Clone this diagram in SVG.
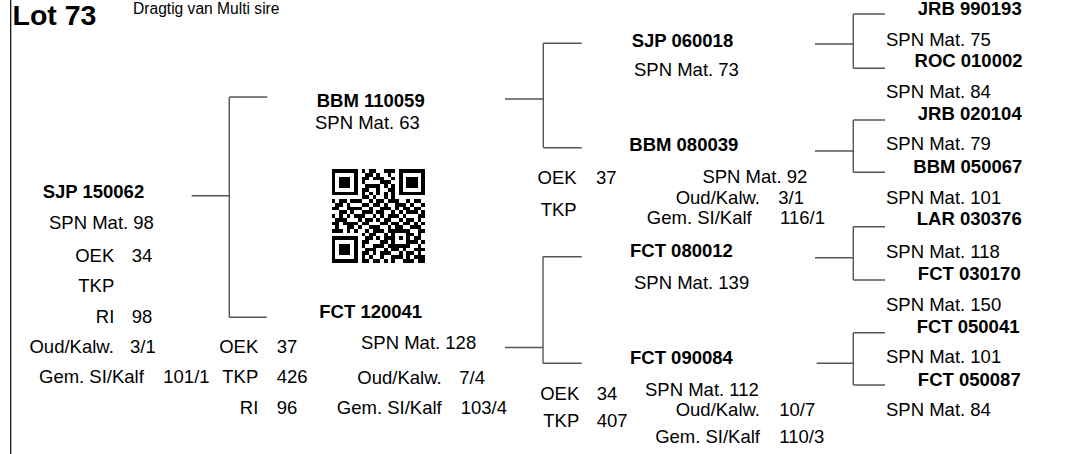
<svg xmlns="http://www.w3.org/2000/svg" width="1078" height="454" viewBox="0 0 1078 454">
<style>
text{font-family:"Liberation Sans",Arial,sans-serif;font-size:18.5px;fill:#000}
.b{font-weight:bold}
.e{text-anchor:end}
.c{fill:none;stroke:#555;stroke-width:1.4}
</style>
<rect width="1078" height="454" fill="#fff"/>
<g id="connectors">
<line x1="10.7" y1="0" x2="10.7" y2="454" stroke="#000" stroke-width="1.2"/>
<path class="c" d="M191.7,195.7H229.3M229.3,97V317.3M229.3,97H267.3M229.3,317.3H266.7"/>
<path class="c" d="M505,99H543.3M543.3,43.3V147.7M543.3,43.3H581.7M543.3,147.7H581.7"/>
<path class="c" d="M505,347.5H543M543,256.7V363.3M543,256.7H581.7M543,363.3H581.7"/>
<path class="c" d="M815,44H853.3M853.3,14V68.3M853.3,14H885M853.3,68.3H885"/>
<path class="c" d="M815,151H853.3M853.3,120V172.3M853.3,120H885M853.3,172.3H885"/>
<path class="c" d="M815,257.7H853.3M853.3,226.7V280M853.3,226.7H885M853.3,280H885"/>
<path class="c" d="M816.7,363.3H853.3M853.3,332.7V385M853.3,332.7H885M853.3,385H885"/>
</g>
<g id="header">
<text x="12.5" y="25" class="b" style="font-size:28.5px">Lot 73</text>
<text x="133" y="14" style="font-size:15.6px">Dragtig van Multi sire</text>
</g>
<g id="qr">
<path fill="#000" shape-rendering="crispEdges" transform="translate(331.7,169.3) scale(3.733)" d="M0,0h7v1h-7zM8,0h1v1h-1zM10,0h2v1h-2zM14,0h3v1h-3zM18,0h7v1h-7z
M0,1h1v1h-1zM6,1h1v1h-1zM9,1h2v1h-2zM12,1h1v1h-1zM15,1h1v1h-1zM18,1h1v1h-1zM24,1h1v1h-1z
M0,2h1v1h-1zM2,2h3v1h-3zM6,2h1v1h-1zM8,2h2v1h-2zM11,2h3v1h-3zM16,2h1v1h-1zM18,2h1v1h-1zM20,2h3v1h-3zM24,2h1v1h-1z
M0,3h1v1h-1zM2,3h3v1h-3zM6,3h1v1h-1zM8,3h1v1h-1zM13,3h3v1h-3zM18,3h1v1h-1zM20,3h3v1h-3zM24,3h1v1h-1z
M0,4h1v1h-1zM2,4h3v1h-3zM6,4h1v1h-1zM9,4h4v1h-4zM14,4h1v1h-1zM16,4h1v1h-1zM18,4h1v1h-1zM20,4h3v1h-3zM24,4h1v1h-1z
M0,5h1v1h-1zM6,5h1v1h-1zM8,5h2v1h-2zM12,5h1v1h-1zM15,5h2v1h-2zM18,5h1v1h-1zM24,5h1v1h-1z
M0,6h7v1h-7zM8,6h1v1h-1zM10,6h1v1h-1zM12,6h1v1h-1zM14,6h1v1h-1zM16,6h1v1h-1zM18,6h7v1h-7z
M8,7h2v1h-2zM11,7h1v1h-1zM14,7h1v1h-1zM16,7h1v1h-1z
M0,8h1v1h-1zM2,8h2v1h-2zM5,8h3v1h-3zM10,8h1v1h-1zM12,8h2v1h-2zM15,8h3v1h-3zM20,8h1v1h-1zM22,8h2v1h-2z
M1,9h2v1h-2zM4,9h1v1h-1zM8,9h2v1h-2zM11,9h2v1h-2zM14,9h1v1h-1zM17,9h3v1h-3zM21,9h1v1h-1zM24,9h1v1h-1z
M0,10h2v1h-2zM4,10h4v1h-4zM10,10h1v1h-1zM13,10h3v1h-3zM17,10h1v1h-1zM19,10h2v1h-2zM22,10h2v1h-2z
M2,11h2v1h-2zM5,11h1v1h-1zM8,11h3v1h-3zM12,11h2v1h-2zM16,11h1v1h-1zM18,11h1v1h-1zM20,11h3v1h-3zM24,11h1v1h-1z
M0,12h1v1h-1zM2,12h1v1h-1zM4,12h1v1h-1zM6,12h3v1h-3zM11,12h1v1h-1zM13,12h1v1h-1zM15,12h3v1h-3zM19,12h1v1h-1zM23,12h2v1h-2z
M1,13h3v1h-3zM7,13h1v1h-1zM9,13h2v1h-2zM12,13h1v1h-1zM14,13h2v1h-2zM18,13h1v1h-1zM20,13h2v1h-2zM23,13h1v1h-1z
M0,14h2v1h-2zM3,14h4v1h-4zM8,14h2v1h-2zM13,14h2v1h-2zM16,14h2v1h-2zM19,14h2v1h-2zM22,14h1v1h-1zM24,14h1v1h-1z
M1,15h1v1h-1zM4,15h2v1h-2zM7,15h1v1h-1zM10,15h3v1h-3zM15,15h1v1h-1zM17,15h2v1h-2zM21,15h3v1h-3z
M0,16h3v1h-3zM4,16h1v1h-1zM6,16h1v1h-1zM9,16h1v1h-1zM11,16h3v1h-3zM15,16h6v1h-6zM23,16h2v1h-2z
M8,17h1v1h-1zM10,17h2v1h-2zM14,17h1v1h-1zM16,17h1v1h-1zM20,17h2v1h-2zM23,17h1v1h-1z
M0,18h7v1h-7zM9,18h2v1h-2zM12,18h1v1h-1zM14,18h3v1h-3zM18,18h1v1h-1zM20,18h1v1h-1zM22,18h2v1h-2z
M0,19h1v1h-1zM6,19h1v1h-1zM8,19h2v1h-2zM13,19h2v1h-2zM16,19h1v1h-1zM20,19h3v1h-3zM24,19h1v1h-1z
M0,20h1v1h-1zM2,20h3v1h-3zM6,20h1v1h-1zM8,20h1v1h-1zM11,20h3v1h-3zM15,20h6v1h-6zM23,20h1v1h-1z
M0,21h1v1h-1zM2,21h3v1h-3zM6,21h1v1h-1zM9,21h3v1h-3zM14,21h1v1h-1zM16,21h2v1h-2zM19,21h1v1h-1zM22,21h3v1h-3z
M0,22h1v1h-1zM2,22h3v1h-3zM6,22h1v1h-1zM8,22h2v1h-2zM11,22h1v1h-1zM13,22h3v1h-3zM18,22h1v1h-1zM20,22h2v1h-2zM23,22h1v1h-1z
M0,23h1v1h-1zM6,23h1v1h-1zM8,23h1v1h-1zM10,23h1v1h-1zM13,23h1v1h-1zM16,23h3v1h-3zM20,23h1v1h-1zM22,23h3v1h-3z
M0,24h7v1h-7zM8,24h2v1h-2zM11,24h2v1h-2zM14,24h1v1h-1zM16,24h1v1h-1zM19,24h3v1h-3zM23,24h2v1h-2z"/>
</g>
<g id="sjp150062">
<text x="42.7" y="197.5" class="b">SJP 150062</text>
<text x="49" y="228.5">SPN Mat. 98</text>
<text x="114.3" y="261.7" class="e">OEK</text><text x="131.7" y="261.7">34</text>
<text x="114.3" y="291.7" class="e">TKP</text>
<text x="114.3" y="323.3" class="e">RI</text><text x="131.7" y="323.3">98</text>
<text x="113.8" y="353.3" class="e">Oud/Kalw.</text><text x="130" y="353.3">3/1</text>
<text x="39" y="382.7">Gem. SI/Kalf</text><text x="163.3" y="382.7">101/1</text>
</g>
<g id="bbm110059">
<text x="316.7" y="106.7" class="b">BBM 110059</text>
<text x="315" y="129.3">SPN Mat. 63</text>
</g>
<g id="fct120041">
<text x="319.3" y="318.3" class="b">FCT 120041</text>
<text x="361" y="349.3">SPN Mat. 128</text>
<text x="258.3" y="353.3" class="e">OEK</text><text x="276.7" y="353.3">37</text>
<text x="258.3" y="382.7" class="e">TKP</text><text x="276.7" y="382.7">426</text>
<text x="258.3" y="414" class="e">RI</text><text x="276.7" y="414">96</text>
<text x="441.7" y="384" class="e">Oud/Kalw.</text><text x="459.3" y="384">7/4</text>
<text x="441.7" y="414" class="e">Gem. SI/Kalf</text><text x="460.7" y="414">103/4</text>
</g>
<g id="sjp060018">
<text x="631.7" y="47.3" class="b">SJP 060018</text>
<text x="634" y="76">SPN Mat. 73</text>
</g>
<g id="bbm080039">
<text x="629.3" y="150.7" class="b">BBM 080039</text>
<text x="807.3" y="182.7" class="e">SPN Mat. 92</text>
<text x="576.7" y="184" class="e">OEK</text><text x="596" y="184">37</text>
<text x="576.7" y="215.7" class="e">TKP</text>
<text x="760" y="204.3" class="e">Oud/Kalw.</text><text x="778.3" y="204.3">3/1</text>
<text x="751.7" y="224" class="e">Gem. SI/Kalf</text><text x="780" y="224">116/1</text>
</g>
<g id="fct080012">
<text x="630" y="257.3" class="b">FCT 080012</text>
<text x="634" y="289.3">SPN Mat. 139</text>
</g>
<g id="fct090084">
<text x="630" y="364" class="b">FCT 090084</text>
<text x="645" y="395.7">SPN Mat. 112</text>
<text x="579.3" y="400" class="e">OEK</text><text x="596.7" y="400">34</text>
<text x="579.3" y="426.7" class="e">TKP</text><text x="596.7" y="426.7">407</text>
<text x="760" y="415.7" class="e">Oud/Kalw.</text><text x="779.3" y="415.7">10/7</text>
<text x="760" y="443.3" class="e">Gem. SI/Kalf</text><text x="779.3" y="443.3">110/3</text>
</g>
<g id="jrb990193"><text x="1021.7" y="15" class="b e">JRB 990193</text><text x="886" y="45.7">SPN Mat. 75</text></g>
<g id="roc010002"><text x="1022.5" y="66.7" class="b e">ROC 010002</text><text x="886" y="98.3">SPN Mat. 84</text></g>
<g id="jrb020104"><text x="1021.7" y="120" class="b e">JRB 020104</text><text x="886" y="150">SPN Mat. 79</text></g>
<g id="bbm050067"><text x="1022.3" y="173.3" class="b e">BBM 050067</text><text x="886" y="204">SPN Mat. 101</text></g>
<g id="lar030376"><text x="1021.7" y="225" class="b e">LAR 030376</text><text x="886" y="258.3">SPN Mat. 118</text></g>
<g id="fct030170"><text x="1020.7" y="280" class="b e">FCT 030170</text><text x="886" y="310.7">SPN Mat. 150</text></g>
<g id="fct050041"><text x="1019.5" y="333.3" class="b e">FCT 050041</text><text x="886" y="363.3">SPN Mat. 101</text></g>
<g id="fct050087"><text x="1020.7" y="385.7" class="b e">FCT 050087</text><text x="886" y="416">SPN Mat. 84</text></g>
</svg>
